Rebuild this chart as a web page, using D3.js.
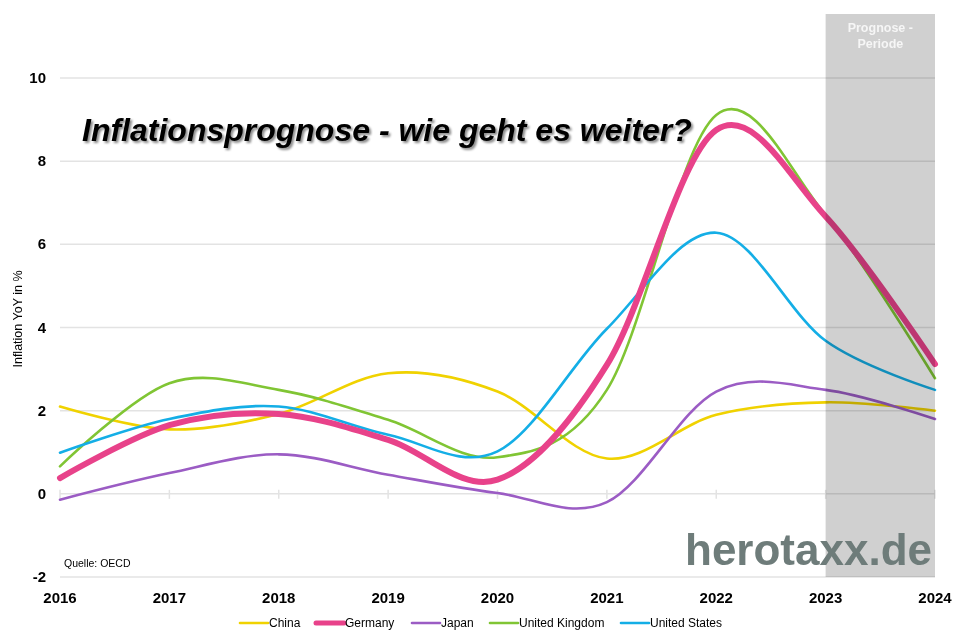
<!DOCTYPE html>
<html>
<head>
<meta charset="utf-8">
<script src="https://cdn.jsdelivr.net/npm/d3@7"></script>
<style>
  body { margin: 0; background: #fff; }
  svg { font-family: "Liberation Sans", Arial, sans-serif; }
</style>
</head>
<body>
<div class="chart"></div>
<script>
(function() {

  // data (inflation YoY in %)
  const years = [2016, 2017, 2018, 2019, 2020, 2021, 2022, 2023, 2024];
  const china   = [2.1, 1.55, 1.92, 2.9, 2.46, 0.85, 1.9, 2.2, 2.0];
  const germany = [0.38, 1.65, 1.92, 1.3, 0.34, 3.1, 8.75, 6.67, 3.12];
  const japan   = [-0.14, 0.5, 0.95, 0.46, 0.02, -0.2, 2.46, 2.5, 1.8];
  const uk      = [0.66, 2.66, 2.5, 1.78, 0.88, 2.5, 9.11, 6.7, 2.78];
  const us      = [0.99, 1.8, 2.1, 1.42, 1.02, 3.97, 6.28, 3.68, 2.5];
  const yTicks  = [-2, 0, 2, 4, 6, 8, 10];
  const forecastStart = 2023;

  const seriesNames  = ['China', 'Germany', 'Japan', 'United Kingdom', 'United States'];
  const seriesValues = [china, germany, japan, uk, us];
  const seriesColors = ['#f0d200', '#e8428a', '#9b5cc4', '#80c534', '#14aee6'];
  const seriesWidths = [2.6, 6, 2.6, 2.6, 2.6];

  let svgContainer = "";

  window.onload = function() {
    svgContainer = d3.select('.chart').append('svg')
      .attr('width', 964)
      .attr('height', 631);

    let xScale = d3.scaleLinear()
      .domain([2016, 2024])
      .range([60, 935]);

    let yScale = d3.scaleLinear()
      .domain([-2, 10])
      .range([577, 78]);

    // shadow for the title
    let defs = svgContainer.append('defs');
    defs.append('filter')
      .attr('id', 'shadow')
      .attr('x', '-5%').attr('y', '-30%')
      .attr('width', '110%').attr('height', '160%')
      .append('feDropShadow')
        .attr('dx', 2).attr('dy', 2)
        .attr('stdDeviation', 1.2)
        .attr('flood-color', '#000')
        .attr('flood-opacity', 0.45);

    // gridlines
    svgContainer.selectAll('.grid')
      .data(yTicks)
      .enter()
      .append('line')
        .attr('x1', xScale(2016))
        .attr('x2', xScale(2024))
        .attr('y1', (d) => yScale(d))
        .attr('y2', (d) => yScale(d))
        .attr('stroke', '#e3e3e3')
        .attr('stroke-width', 1.5);

    // tick marks on the zero line
    svgContainer.selectAll('.tick0')
      .data(years)
      .enter()
      .append('line')
        .attr('x1', (d) => xScale(d))
        .attr('x2', (d) => xScale(d))
        .attr('y1', yScale(0) - 4)
        .attr('y2', yScale(0) + 5)
        .attr('stroke', '#e3e3e3')
        .attr('stroke-width', 1.5);

    // y axis labels
    svgContainer.selectAll('.ylab')
      .data(yTicks)
      .enter()
      .append('text')
        .attr('x', 46)
        .attr('y', (d) => yScale(d) + 5)
        .attr('text-anchor', 'end')
        .attr('font-size', 15)
        .attr('font-weight', 'bold')
        .text((d) => d);

    // x axis labels
    svgContainer.selectAll('.xlab')
      .data(years)
      .enter()
      .append('text')
        .attr('x', (d) => xScale(d))
        .attr('y', 603)
        .attr('text-anchor', 'middle')
        .attr('font-size', 15)
        .attr('font-weight', 'bold')
        .text((d) => d);

    svgContainer.append('text')
      .attr('transform', 'translate(22, 319)rotate(-90)')
      .attr('text-anchor', 'middle')
      .attr('font-size', 12.5)
      .text('Inflation YoY in %');

    svgContainer.append('text')
      .attr('x', 64)
      .attr('y', 567)
      .attr('font-size', 10.5)
      .text('Quelle: OECD');

    // smoothed lines
    let line = d3.line()
      .x((d, i) => xScale(years[i]))
      .y((d) => yScale(d))
      .curve(d3.curveCardinal.tension(0));

    let order = [0, 2, 3, 4, 1];
    order.forEach(function(k) {
      svgContainer.append('path')
        .datum(seriesValues[k])
        .attr('d', line)
        .attr('fill', 'none')
        .attr('stroke', seriesColors[k])
        .attr('stroke-width', seriesWidths[k])
        .attr('stroke-linecap', 'round');
    });

    // forecast period shading (multiplied over the lines)
    svgContainer.append('rect')
      .attr('x', xScale(forecastStart))
      .attr('y', 14)
      .attr('width', xScale(2024) - xScale(forecastStart))
      .attr('height', yScale(-2) - 14)
      .attr('fill', '#d0d0d0')
      .style('mix-blend-mode', 'multiply');

    let progX = (xScale(forecastStart) + xScale(2024)) / 2;
    svgContainer.append('text')
      .attr('x', progX)
      .attr('y', 32)
      .attr('text-anchor', 'middle')
      .attr('font-size', 12.5)
      .attr('font-weight', 'bold')
      .attr('fill', '#f6f6f6')
      .text('Prognose -');
    svgContainer.append('text')
      .attr('x', progX)
      .attr('y', 48)
      .attr('text-anchor', 'middle')
      .attr('font-size', 12.5)
      .attr('font-weight', 'bold')
      .attr('fill', '#f6f6f6')
      .text('Periode');

    // title
    svgContainer.append('text')
      .attr('x', 82)
      .attr('y', 141)
      .attr('font-size', 32)
      .attr('font-weight', 'bold')
      .attr('font-style', 'italic')
      .attr('filter', 'url(#shadow)')
      .text('Inflationsprognose - wie geht es weiter?');

    // watermark
    svgContainer.append('text')
      .attr('x', 932)
      .attr('y', 565)
      .attr('text-anchor', 'end')
      .attr('font-size', 44)
      .attr('font-weight', 'bold')
      .attr('fill', '#6e7c7a')
      .text('herotaxx.de');

    // legend
    let legendX = [240, 316, 412, 490, 621];
    seriesNames.forEach(function(name, k) {
      svgContainer.append('line')
        .attr('x1', legendX[k])
        .attr('x2', legendX[k] + 28)
        .attr('y1', 623)
        .attr('y2', 623)
        .attr('stroke', seriesColors[k])
        .attr('stroke-width', k === 1 ? 5 : 2.6)
        .attr('stroke-linecap', 'round');
      svgContainer.append('text')
        .attr('x', legendX[k] + 29)
        .attr('y', 627)
        .attr('font-size', 12)
        .text(name);
    });
  }

})();
</script>
</body>
</html>
